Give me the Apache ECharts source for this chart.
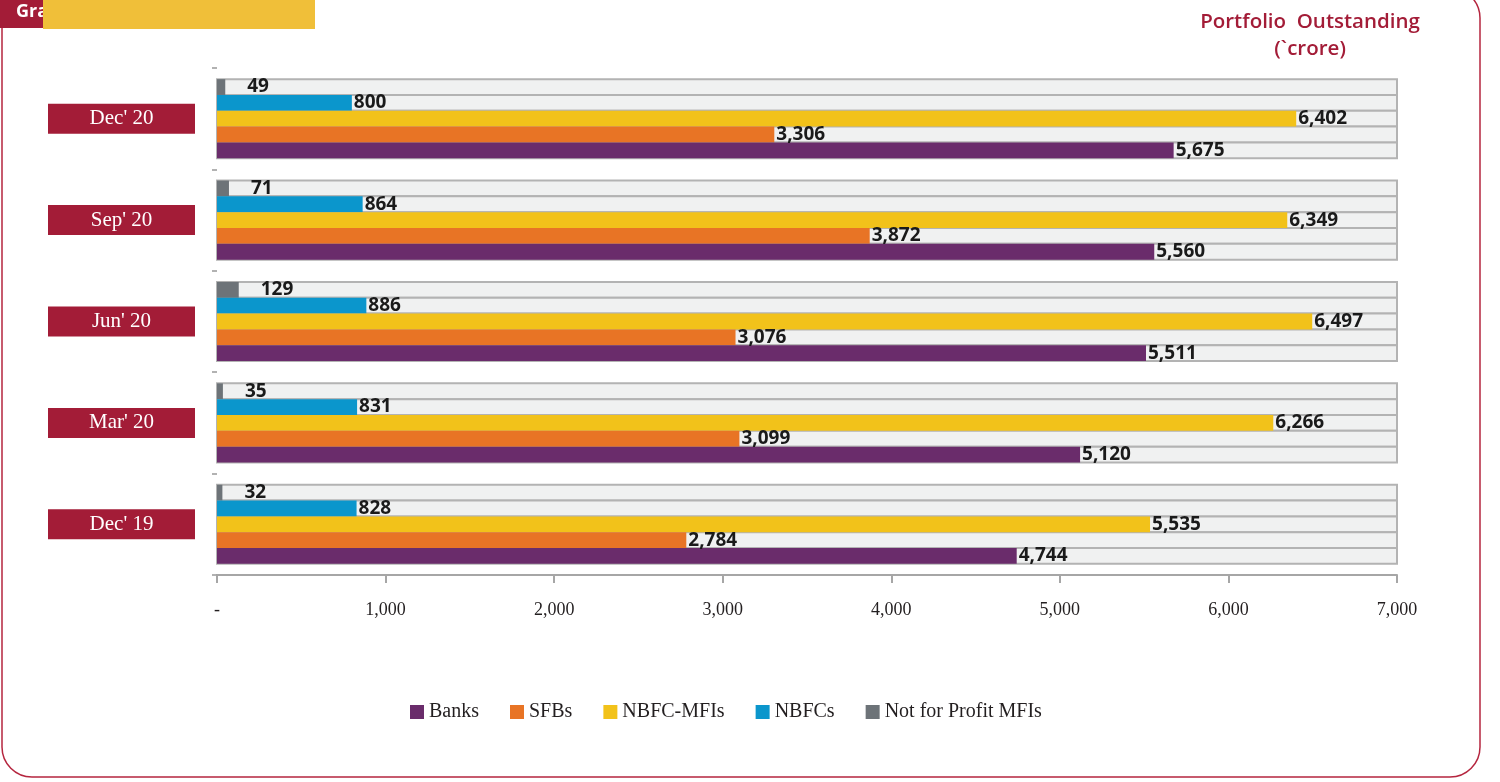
<!DOCTYPE html>
<html>
<head>
<meta charset="utf-8">
<script src="https://cdn.jsdelivr.net/npm/echarts@6/dist/echarts.min.js"></script>
<style>
html,body{margin:0;padding:0;background:#fff;}
#c{width:1500px;height:782px;}
</style>
</head>
<body>
<div id="c"></div>
<script>
const categories = ["Dec' 19", "Mar' 20", "Jun' 20", "Sep' 20", "Dec' 20"];
const seriesNames = ["Banks", "SFBs", "NBFC-MFIs", "NBFCs", "Not for Profit MFIs"];
const banks = [4744, 5120, 5511, 5560, 5675];
const sfbs = [2784, 3099, 3076, 3872, 3306];
const nbfcMfis = [5535, 6266, 6497, 6349, 6402];
const nbfcs = [828, 831, 886, 864, 800];
const notForProfit = [32, 35, 129, 71, 49];
const xTicks = [0, 1000, 2000, 3000, 4000, 5000, 6000, 7000];

const colors = ['#6a2c6b', '#e87425', '#f2c21a', '#0b96cc', '#6d7378'];
const dataSets = [banks, sfbs, nbfcMfis, nbfcs, notForProfit];
const labelDist = [2, 2, 2, 2, 22];

const chart = echarts.init(document.getElementById('c'), null, {renderer: 'canvas'});

// ECharts places the first series at the top of each band on a y category axis,
// so add series in reverse to get Banks at the bottom.
const series = [];
for (let i = seriesNames.length - 1; i >= 0; i--) {
  series.push({
    name: seriesNames[i],
    type: 'bar',
    data: dataSets[i],
    barGap: '0%',
    barCategoryGap: '22%',
    itemStyle: {color: colors[i]},
    showBackground: true,
    backgroundStyle: {color: '#f0f1f1', borderColor: '#b3b3b3', borderWidth: 2},
    label: {
      show: true,
      position: 'right',
      distance: labelDist[i],
      fontFamily: 'Open Sans',
      fontWeight: 'bold',
      fontSize: 19,
      color: '#1a1a1a',
      formatter: p => p.value.toLocaleString('en-US')
    }
  });
}

chart.setOption({
  animation: false,
  title: {
    text: 'Portfolio  Outstanding\n(`crore)',
    left: 1305,
    top: 4,
    textAlign: 'center',
    textStyle: {color: '#a31c37', fontFamily: 'Open Sans', fontWeight: 600, fontSize: 20.5, lineHeight: 27}
  },
  grid: {left: 217, right: 103, top: 68, bottom: 207, containLabel: false},
  xAxis: {
    type: 'value',
    min: 0,
    max: 7000,
    interval: 1000,
    splitLine: {show: false},
    axisLine: {show: true, lineStyle: {color: '#a6a6a6', width: 2}},
    axisTick: {show: true, length: 8, lineStyle: {color: '#a6a6a6', width: 2}},
    axisLabel: {
      margin: 26,
      fontFamily: 'Liberation Serif',
      fontSize: 18,
      color: '#231f20',
      formatter: v => xTicks.indexOf(v) === 0 ? '-' : v.toLocaleString('en-US')
    }
  },
  yAxis: {
    type: 'category',
    data: categories,
    axisLine: {show: false},
    axisTick: {show: true, length: 5, lineStyle: {color: '#999', width: 1.5}},
    axisLabel: {
      margin: 22,
      formatter: v => '{box|' + v + '}',
      rich: {
        box: {
          width: 147, height: 30, lineHeight: 30, align: 'center',
          backgroundColor: '#a31c37', color: '#fff',
          fontFamily: 'Liberation Serif', fontSize: 21
        }
      }
    }
  },
  legend: {
    data: seriesNames,
    bottom: 55,
    left: 405,
    icon: 'rect',
    itemWidth: 14,
    itemHeight: 14,
    itemGap: 31,
    textStyle: {fontFamily: 'Liberation Serif', fontSize: 20, color: '#231f20'}
  },
  graphic: [
    {type: 'rect', shape: {x: 2, y: -12, width: 1478, height: 789, r: 30}, style: {fill: 'none', stroke: '#b5263f', lineWidth: 1.5}, z: 0},
    {type: 'rect', shape: {x: 0, y: 0, width: 70, height: 28}, style: {fill: '#a31c37'}, z: 10},
    {type: 'text', left: 16, top: 3, style: {text: 'Graph', fill: '#fff', font: 'bold 18px "Open Sans"'}, z: 11},
    {type: 'rect', shape: {x: 43, y: 0, width: 272, height: 29}, style: {fill: '#f0bf39'}, z: 12}
  ],
  series: series
});
</script>
</body>
</html>
